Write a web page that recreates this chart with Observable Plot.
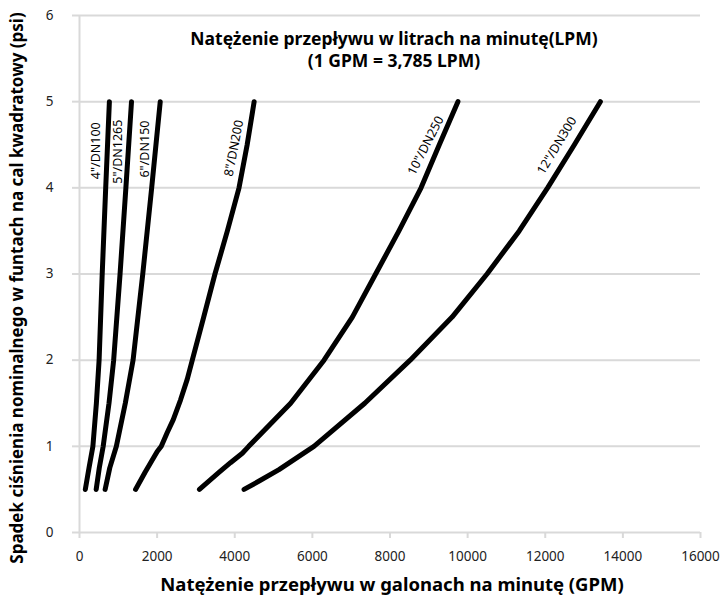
<!DOCTYPE html>
<html><head><meta charset="utf-8">
<script src="https://cdn.jsdelivr.net/npm/d3@7"></script>
<script src="https://cdn.jsdelivr.net/npm/@observablehq/plot@0.6"></script>
<style>
html,body{margin:0;padding:0;background:#fff;}
#chart{width:722px;height:599px;}
</style>
</head><body><div id="chart"></div>
<script>
// ---- data ----
const sizes = ['4"/DN100', '5"/DN1265', '6"/DN150', '8"/DN200', '10"/DN250', '12"/DN300'];

const psi4  = [0.5, 0.75, 1, 1.5, 2, 3, 4, 5];
const gpm4  = [150, 245, 345, 435, 505, 585, 675, 770];

const psi5  = [0.5, 0.75, 1, 1.5, 2, 3, 4, 5];
const gpm5  = [430, 510, 610, 760, 880, 1045, 1195, 1340];

const psi6  = [0.5, 0.75, 1, 1.5, 2, 3, 4, 5];
const gpm6  = [660, 780, 950, 1180, 1380, 1630, 1860, 2080];

const psi8  = [0.5, 0.7, 0.94, 1, 1.16, 1.31, 1.54, 1.78, 2, 2.5, 3, 3.5, 4, 4.5, 5];
const gpm8  = [1444, 1690, 2003, 2107, 2261, 2416, 2604, 2777, 2906, 3200, 3490, 3810, 4110, 4320, 4500];

const psi10 = [0.5, 0.7, 0.81, 0.92, 1, 1.5, 2, 2.5, 3, 3.5, 4, 4.5, 5];
const gpm10 = [3090, 3600, 3890, 4195, 4360, 5440, 6300, 7030, 7630, 8230, 8800, 9270, 9750];

const psi12 = [0.5, 0.6, 0.73, 1, 1.5, 2, 2.5, 3, 3.5, 4, 4.5, 5];
const gpm12 = [4240, 4640, 5140, 6040, 7350, 8520, 9600, 10500, 11330, 12060, 12750, 13420];

// where each size label sits along its curve (data units) and its slant
const labelGpm = [438, 998, 1684, 3979, 8922, 12300];
const labelPsi = [4.43, 4.42, 4.45, 4.46, 4.49, 4.49];
const labelAngle = [-90, -90, -90, -79, -63, -59];

const xTicks = [0, 2000, 4000, 6000, 8000, 10000, 12000, 14000, 16000];
const yTicks = [0, 1, 2, 3, 4, 5, 6];

const titleLines = ["Natężenie przepływu w litrach na minutę(LPM)", "(1 GPM = 3,785 LPM)"];
const xTitle = "Natężenie przepływu w galonach na minutę (GPM)";
const yTitle = "Spadek ciśnienia nominalnego w funtach na cal kwadratowy (psi)";

// ---- build tables ----
const seriesPsi = [psi4, psi5, psi6, psi8, psi10, psi12];
const seriesGpm = [gpm4, gpm5, gpm6, gpm8, gpm10, gpm12];
const rows = sizes.flatMap((s, k) => seriesPsi[k].map((p, i) => ({size: s, psi: p, gpm: seriesGpm[k][i]})));
const labels = sizes.map((s, k) => ({size: s, gpm: labelGpm[k], psi: labelPsi[k], angle: labelAngle[k]}));

const grid = "#d9d9d9";
const font = "'Noto Sans', 'Open Sans', sans-serif";

const chart = Plot.plot({
  width: 722,
  height: 599,
  marginLeft: 79,
  marginRight: 22,
  marginTop: 15,
  marginBottom: 67,
  style: {fontFamily: font, background: "#fff", overflow: "visible"},
  x: {domain: [0, 16000]},
  y: {domain: [0, 6]},
  marks: [
    Plot.gridY(yTicks, {stroke: grid, strokeOpacity: 1, strokeWidth: 2}),
    Plot.ruleX([0], {stroke: grid, strokeWidth: 2}),
    Plot.axisY({ticks: yTicks, tickFormat: d => String(d), tickSize: 7, tickPadding: 19, stroke: grid, strokeWidth: 2, strokeOpacity: 1,
      fill: "#222", fontSize: 13.5, label: null}),
    Plot.axisX({ticks: xTicks, tickFormat: d => String(d), tickSize: 6, tickPadding: 13, stroke: grid, strokeWidth: 2, strokeOpacity: 1,
      fill: "#222", fontSize: 13.5, label: null}),
    Plot.line(rows, {x: "gpm", y: "psi", z: "size", stroke: "#000", strokeWidth: 5,
      strokeLinecap: "round", strokeLinejoin: "round"}),
    Plot.text(labels, {x: "gpm", y: "psi", text: "size", rotate: "angle", fontSize: 12.5, fill: "#000",
      textAnchor: "middle", lineAnchor: "middle"}),
    Plot.text([titleLines.join("\n")], {frameAnchor: "top", textAnchor: "middle", lineAnchor: "top", lineHeight: 1.25,
      dx: 4, dy: 14, fontSize: 17.5, fontWeight: "bold", fill: "#000"}),
    Plot.text([xTitle], {frameAnchor: "bottom", textAnchor: "middle", dx: 2, dy: 53, fontSize: 18.5, fontWeight: "bold", fill: "#000", lineAnchor: "middle"}),
    Plot.text([yTitle], {frameAnchor: "left", textAnchor: "middle", dx: -62, dy: 14, rotate: -90, fontSize: 17, fontWeight: "bold", fill: "#000", lineAnchor: "middle"})
  ]
});
document.getElementById("chart").appendChild(chart);
</script>
</body></html>
